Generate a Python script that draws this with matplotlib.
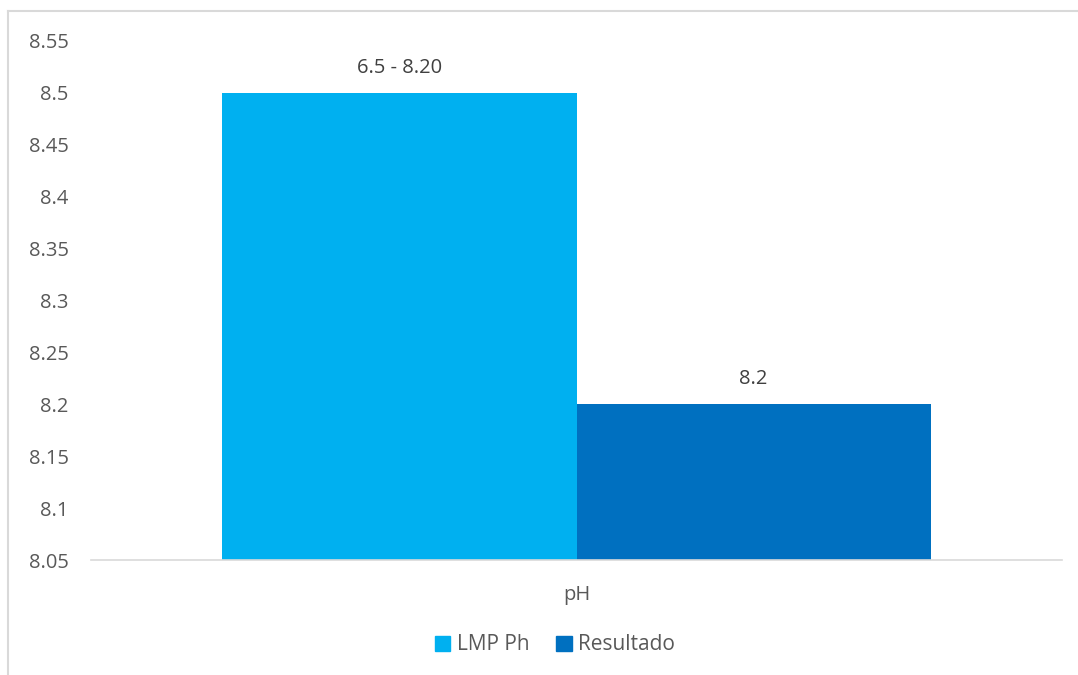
import matplotlib
matplotlib.use("Agg")
import matplotlib.pyplot as plt
from matplotlib.lines import Line2D
from matplotlib.patches import Patch

categories = ["pH"]
series_names = ["LMP Ph", "Resultado"]
values = [8.5, 8.2]
value_labels = ["6.5 - 8.20", "8.2"]
colors = ["#00B0F0", "#0070C0"]
y_ticks = [8.05, 8.1, 8.15, 8.2, 8.25, 8.3, 8.35, 8.4, 8.45, 8.5, 8.55]
y_tick_labels = ["8.05", "8.1", "8.15", "8.2", "8.25", "8.3", "8.35", "8.4", "8.45", "8.5", "8.55"]

plt.rcParams["font.family"] = ["Open Sans", "DejaVu Sans"]
text_color = "#595959"

fig = plt.figure(figsize=(10.78, 6.75), dpi=100)
ax = fig.add_axes([91 / 1078, 1 - 560 / 675, 971 / 1078, 519 / 675])

W, H = 1078, 675
# chart frame (left and top edges visible)
fig.add_artist(Line2D([8 / W, 8 / W], [0, 1 - 11 / H], color="#D9D9D9", lw=1.5))
fig.add_artist(Line2D([8 / W, 1], [1 - 11 / H, 1 - 11 / H], color="#D9D9D9", lw=1.5))

bar_w = 0.3646
offsets = [-bar_w / 2, bar_w / 2]
for name, val, lab, col, off in zip(series_names, values, value_labels, colors, offsets):
    ax.bar(0 + off, val - 8.05, bottom=8.05, width=bar_w, color=col, label=name)
    ax.annotate(lab, (off, val), xytext=(0, 11), textcoords="offset points",
                ha="center", va="bottom", fontsize=14.5, color="#404040")

ax.set_xlim(-0.5, 0.5)
ax.set_ylim(8.05, 8.55)
ax.set_yticks(y_ticks)
ax.set_yticklabels(y_tick_labels)
ax.set_xticks([0])
ax.set_xticklabels(categories)
ax.tick_params(axis="both", length=0, labelsize=14.5, colors=text_color)
ax.tick_params(axis="y", pad=16)
ax.tick_params(axis="x", pad=18)
for s in ["top", "right", "left"]:
    ax.spines[s].set_visible(False)
ax.spines["bottom"].set_color("#D9D9D9")
ax.spines["bottom"].set_linewidth(1.2)

handles = [Patch(color=c, label=n) for c, n in zip(colors, series_names)]
leg = fig.legend(handles=handles, loc="center", bbox_to_anchor=(555 / W, 1 - 645 / H),
                 ncol=2, frameon=False, fontsize=15, handlelength=0.75, handleheight=0.75,
                 handletextpad=0.3, columnspacing=1.3)
for t in leg.get_texts():
    t.set_color(text_color)

fig.savefig("out.png", dpi=100, facecolor="white")
